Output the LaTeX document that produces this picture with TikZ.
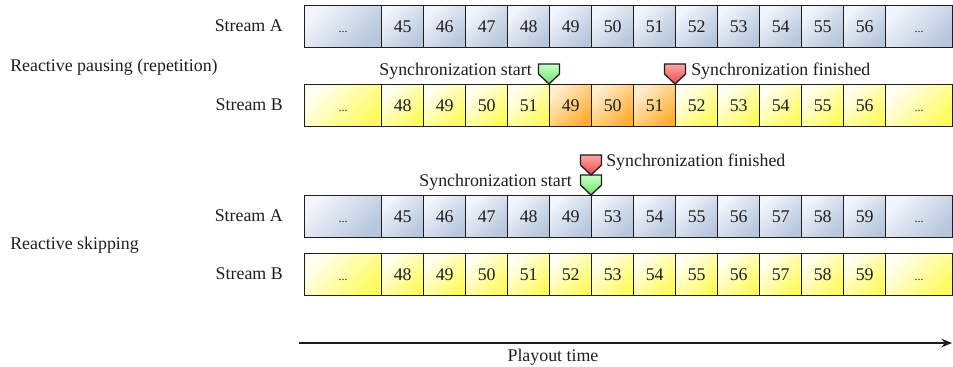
\documentclass[tikz,border=0pt]{standalone}
\usepackage{fontspec}
\setmainfont{Liberation Serif}
\usetikzlibrary{arrows.meta}

\definecolor{blueL}{HTML}{F2F5FB}
\definecolor{blueD}{HTML}{B6C6DD}
\definecolor{yelL}{HTML}{FFFFF2}
\definecolor{yelD}{HTML}{FFFB5E}
\definecolor{oraL}{HTML}{FFEDCD}
\definecolor{oraD}{HTML}{FFAE30}
\definecolor{grnL}{HTML}{C8FFC8}
\definecolor{grnD}{HTML}{6EE46E}
\definecolor{redL}{HTML}{FFA8A8}
\definecolor{redD}{HTML}{EE4848}
\definecolor{ink}{HTML}{1E1E1E}

\tikzset{
  txt/.style={inner sep=0pt, text=ink, font=\fontsize{13.4}{15}\selectfont},
  cell/.style={txt, draw=ink, line width=1.1pt, anchor=north west,
    minimum width=31.5pt, minimum height=31.5pt, text height=8.8pt, text depth=0pt},
  wide/.style={minimum width=57.75pt},
  tail/.style={minimum width=50.25pt},
  bcell/.style={cell, top color=blueL, bottom color=blueD, shading angle=45},
  ycell/.style={cell, top color=yelL, bottom color=yelD, shading angle=45},
  ocell/.style={cell, top color=oraL, bottom color=oraD, shading angle=45},
  startmark/.style={draw=ink, line width=1pt, top color=grnL, bottom color=grnD},
  endmark/.style={draw=ink, line width=1pt, top color=redL, bottom color=redD},
  greenflag/.pic={\path[startmark] (-10.5,-20) -- (10.5,-20) -- (10.5,-10) -- (0,0) -- (-10.5,-10) -- cycle;},
  redflag/.pic={\path[endmark] (-10.5,-20) -- (10.5,-20) -- (10.5,-10) -- (0,0) -- (-10.5,-10) -- cycle;},
}
% small ellipsis sitting on the baseline
\newcommand\ellip{{\fontsize{9}{10}\selectfont...}}

\begin{document}
\begin{tikzpicture}[x=0.75pt, y=-0.75pt]
\useasboundingbox (0,0) rectangle (953,367);

% ---- Reactive pausing ----
\node[txt, anchor=west] (lpause) at (10,67) {Reactive pausing (repetition)};

% Stream A
\node[txt, anchor=east] (la1) at (283,26) {Stream A};
\node[bcell, wide] (a1-0) at (304,5) {\ellip};
\foreach \v [count=\i] in {45,...,56}
  \node[bcell] (a1-\i) at ({381+42*(\i-1)},5) {\v};
\node[bcell, tail] (a1-13) at (885,5) {\ellip};

% Stream B (three frames repeated)
\node[txt, anchor=east] (lb1) at (283,105) {Stream B};
\node[ycell, wide] (b1-0) at (304,84) {\ellip};
\foreach \v/\s [count=\i] in {48/ycell,49/ycell,50/ycell,51/ycell,49/ocell,50/ocell,51/ocell,52/ycell,53/ycell,54/ycell,55/ycell,56/ycell}
  \node[\s] (b1-\i) at ({381+42*(\i-1)},84) {\v};
\node[ycell, tail] (b1-13) at (885,84) {\ellip};

\pic at (b1-5.north west) {greenflag};
\pic at (b1-8.north west) {redflag};
\node[txt, anchor=east] (s1) at (532,71) {Synchronization start};
\node[txt, anchor=west] (f1) at (691,71) {Synchronization finished};

% ---- Reactive skipping ----
\node[txt, anchor=west] (lskip) at (10,245) {Reactive skipping};

% Stream A (frames skipped)
\node[txt, anchor=east] (la2) at (283,216) {Stream A};
\node[bcell, wide] (a2-0) at (304,195) {\ellip};
\foreach \v [count=\i] in {45,46,47,48,49,53,54,55,56,57,58,59}
  \node[bcell] (a2-\i) at ({381+42*(\i-1)},195) {\v};
\node[bcell, tail] (a2-13) at (885,195) {\ellip};

\pic at (a2-6.north west) {greenflag};
\pic at ([yshift=15pt]a2-6.north west) {redflag};
\node[txt, anchor=east] (s2) at (572,182) {Synchronization start};
\node[txt, anchor=west] (f2) at (606,162) {Synchronization finished};

% Stream B
\node[txt, anchor=east] (lb2) at (283,274) {Stream B};
\node[ycell, wide] (b2-0) at (304,253) {\ellip};
\foreach \v [count=\i] in {48,...,59}
  \node[ycell] (b2-\i) at ({381+42*(\i-1)},253) {\v};
\node[ycell, tail] (b2-13) at (885,253) {\ellip};

% ---- time axis ----
\coordinate (t0) at (299,343);
\coordinate (t1) at (952,343);
\draw[ink, line width=1.1pt, -{Stealth[length=8pt, width=6.5pt]}] (t0) -- (t1);
\node[txt] (tl) at (553,357) {Playout time};
\end{tikzpicture}
\end{document}
